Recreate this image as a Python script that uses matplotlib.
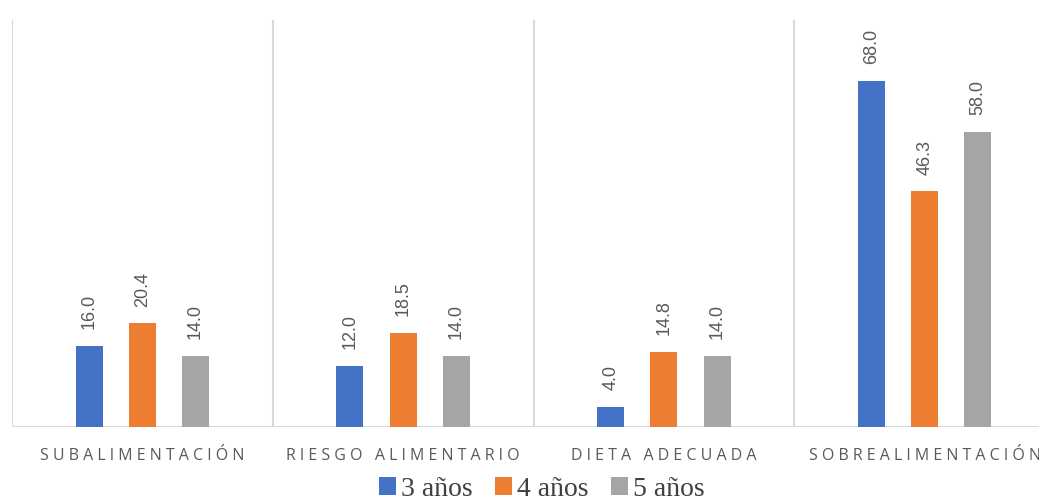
import matplotlib.pyplot as plt
import numpy as np

# Categories and series values
categories = ['SUBALIMENTACIÓN', 'RIESGO ALIMENTARIO', 'DIETA ADECUADA', 'SOBREALIMENTACIÓN']
series_names = ['3 años', '4 años', '5 años']
vals_3 = [16.0, 12.0, 4.0, 68.0]
vals_4 = [20.4, 18.5, 14.8, 46.3]
vals_5 = [14.0, 14.0, 14.0, 58.0]
colors = ['#4472C4', '#ED7D31', '#A5A5A5']

W, H = 1039, 504
fig = plt.figure(figsize=(W / 100, H / 100), dpi=100)
# plot area runs past the right edge, like the cropped original
left, right, top, bottom = 12, 1055, 20, 427
ax = fig.add_axes([left / W, 1 - bottom / H, (right - left) / W, (bottom - top) / H])

x = np.arange(len(categories))
width = 0.104
offset = 0.204
for i, (vals, name) in enumerate(zip([vals_3, vals_4, vals_5], series_names)):
    bars = ax.bar(x + (i - 1) * offset, vals, width, color=colors[i], label=name, zorder=3)
    for b, v in zip(bars, vals):
        ax.annotate(f'{v:.1f}', (b.get_x() + b.get_width() / 2, v),
                    xytext=(0, 12), textcoords='offset points', rotation=90,
                    ha='center', va='bottom', fontsize=13, color='#595959',
                    family='Liberation Sans')

ax.set_xlim(-0.5, len(categories) - 0.5)
ax.set_ylim(0, 80)

# vertical separators between categories
for sx in np.arange(-0.5, len(categories), 1.0):
    ax.axvline(sx, color='#D9D9D9', lw=1.5, zorder=1)
ax.axhline(0, color='#D9D9D9', lw=1.5, zorder=2)

for s in ax.spines.values():
    s.set_visible(False)
ax.set_yticks([])
ax.set_xticks(x)
# wide letter spacing like the original
spaced = ['   '.join(' '.join(w) for w in c.split(' ')) for c in categories]
ax.set_xticklabels(spaced, fontsize=11.5, color='#595959', family='Open Sans')
ax.tick_params(axis='x', length=0, pad=15)

fig.legend(loc='lower center', bbox_to_anchor=(542 / W, -0.045), ncol=3, frameon=False,
           prop={'family': 'Liberation Serif', 'size': 20},
           handlelength=0.6, handleheight=0.6, handletextpad=0.2, columnspacing=0.8,
           labelcolor='#404040')

fig.savefig('out.png', dpi=100)
